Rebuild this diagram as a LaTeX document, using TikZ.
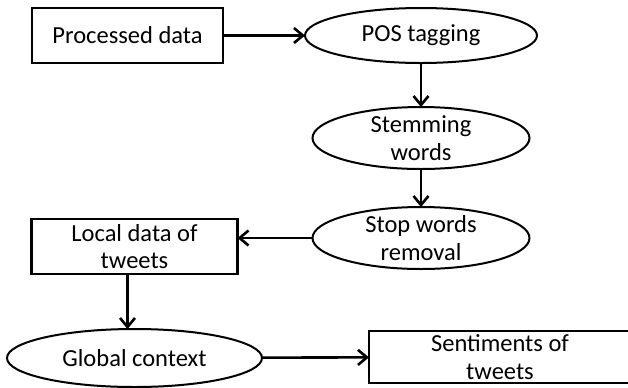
\documentclass[tikz,border=0pt]{standalone}
\usepackage{fontspec}
\setmainfont{Carlito}
\usetikzlibrary{positioning, arrows.meta, shapes.geometric}

\begin{document}
\begin{tikzpicture}[every node/.style={align=center, outer sep=0pt, font=\fontsize{12.25}{13.7}\selectfont},
  stepbox/.style={draw, line width=1.3pt, inner sep=0pt, minimum height=27.5pt},
  stepoval/.style={draw, ellipse, line width=1pt, inner sep=0pt, inner ysep=-4pt},
  flow/.style={-{Straight Barb[length=4.5pt, width=7.5pt]}, line width=1.3pt}]
  \useasboundingbox (-63.75pt,17.75pt) rectangle (250.25pt,-175.75pt);
  \clip (-63.75pt,17.75pt) rectangle (250.25pt,-175.75pt);

  % Top row
  \node[stepbox, minimum width=95.5pt] (proc) {Processed data};
  \node[stepoval, minimum width=116pt, minimum height=27.5pt, right=41pt of proc] (pos) {POS tagging};

  % Right column
  \node[stepoval, minimum width=108.5pt, minimum height=31pt, below=22pt of pos] (stem) {Stemming\\words};
  \node[stepoval, minimum width=108.5pt, minimum height=31pt, below=19pt of stem] (stop) {Stop words\\removal};

  % Bottom part
  \node[stepbox, minimum width=103pt, left=37.5pt of stop, yshift=-4.25pt] (local) {Local data of\\tweets};
  \node[stepoval, minimum width=127.5pt, minimum height=29pt, below=27.5pt of local] (global) {Global context};
  \node[stepbox, minimum width=131pt, minimum height=26pt, right=53.5pt of global, yshift=0.5pt] (sent) {Sentiments of\\tweets};

  % Arrows
  \draw[flow] (proc) -- (pos);
  \draw[flow] (pos) -- (stem);
  \draw[flow] (stem) -- (stop);
  \draw[flow] (stop.west) -- (stop.west -| local.east);
  \draw[flow] ([xshift=-3.5pt]local.south) -- ([xshift=-3.5pt]local.south |- global.north);
  \draw[flow] (global) -- (sent);
\end{tikzpicture}
\end{document}
